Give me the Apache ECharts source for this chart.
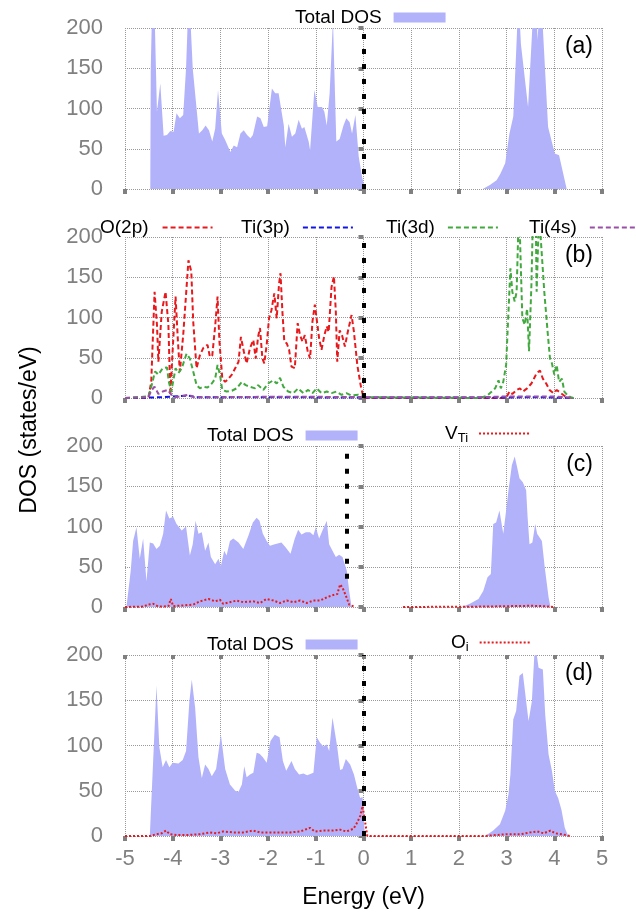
<!DOCTYPE html>
<html>
<head>
    <meta charset="utf-8">
    <title>DOS</title>
    <script src="https://cdn.jsdelivr.net/npm/echarts@6/dist/echarts.min.js"></script>
    <style>
        body { margin: 0; background: #fff; }
    </style>
</head>
<body>
    <div id="main" style="width: 636px;height:915px;"></div>
    <script type="text/javascript">
        // energy (eV), DOS (states/eV) pairs
        var totalA = [[-4.47,0],[-4.46,150],[-4.43,230],[-4.38,220],[-4.33,96],[-4.26,131],[-4.19,66],[-4.12,67],[-4.05,72],[-3.98,71],
            [-3.92,94],[-3.85,88],[-3.78,92],[-3.72,150],[-3.66,250],[-3.58,150],[-3.45,69],[-3.38,73],[-3.31,79],[-3.24,73],[-3.17,59],
            [-3.11,75],[-3.05,123],[-2.97,69],[-2.90,61],[-2.79,46],[-2.72,54],[-2.65,52],[-2.58,69],[-2.51,73],[-2.44,67],[-2.37,63],
            [-2.32,67],[-2.23,90],[-2.16,88],[-2.09,77],[-2.02,78],[-1.92,125],[-1.85,119],[-1.78,119],[-1.67,79],[-1.64,52],[-1.57,81],
            [-1.50,65],[-1.43,69],[-1.36,86],[-1.29,75],[-1.24,77],[-1.15,59],[-1.12,48],[-1.03,123],[-0.96,102],[-0.87,102],[-0.82,96],
            [-0.77,79],[-0.71,119],[-0.64,210],[-0.57,59],[-0.50,62],[-0.42,79],[-0.36,88],[-0.29,83],[-0.24,69],[-0.17,92],[-0.10,40],
            [-0.03,15],[0.03,0],
            [2.50,0],[2.65,5],[2.79,11],[2.87,19],[2.97,32],[3.06,69],[3.14,90],[3.20,170],[3.25,240],[3.30,180],[3.45,102],[3.53,190],
            [3.57,240],[3.62,230],[3.65,185],[3.69,230],[3.72,240],[3.76,200],[3.87,77],[4.01,44],[4.10,42],[4.14,40],[4.26,0]];

        var o2p = [[-5,0],[-4.51,0],[-4.45,20],[-4.38,132],[-4.33,91],[-4.30,45],[-4.23,107],[-4.15,132],[-4.09,91],[-4.05,4],[-4.01,49],
            [-3.94,126],[-3.89,70],[-3.85,33],[-3.78,78],[-3.73,120],[-3.67,171],[-3.61,157],[-3.57,95],[-3.50,37],[-3.43,53],[-3.36,62],
            [-3.27,66],[-3.22,51],[-3.17,53],[-3.11,89],[-3.06,126],[-3.02,70],[-2.96,24],[-2.90,20],[-2.83,24],[-2.76,29],[-2.69,37],
            [-2.62,45],[-2.57,76],[-2.51,58],[-2.45,43],[-2.38,62],[-2.31,72],[-2.26,49],[-2.21,76],[-2.17,87],[-2.12,49],[-2.08,43],
            [-2.03,66],[-1.98,99],[-1.93,109],[-1.87,130],[-1.82,99],[-1.77,142],[-1.74,155],[-1.70,107],[-1.66,70],[-1.61,68],[-1.56,60],
            [-1.51,39],[-1.44,37],[-1.38,93],[-1.33,78],[-1.28,70],[-1.23,78],[-1.17,58],[-1.12,49],[-1.07,95],[-1.02,116],[-0.98,118],
            [-0.93,74],[-0.88,60],[-0.82,78],[-0.77,89],[-0.73,82],[-0.67,138],[-0.62,151],[-0.58,107],[-0.55,45],[-0.50,84],[-0.45,78],
            [-0.39,64],[-0.33,82],[-0.25,103],[-0.20,82],[-0.13,41],[-0.06,16],[0,0],
            [2.99,0],[3.06,8],[3.12,5],[3.21,10],[3.28,12],[3.34,8],[3.43,12],[3.52,18],[3.59,26],[3.63,31],[3.70,34],[3.76,24],
            [3.83,18],[3.90,10],[3.98,6],[4.05,10],[4.14,6],[4.25,1],[4.4,0]];
        var ti3p = [[-5,0],[-4.5,0.5],[-4.2,1],[-3.67,3],[-3.5,1],[-2,1],[0,0.5],[3,0.5],[3.5,1],[4,0.5],[4.4,0]];
        var ti3d = [[-5,0],[-4.51,2],[-4.44,16],[-4.37,33],[-4.30,29],[-4.21,37],[-4.12,38],[-4.08,20],[-4.03,8],[-3.98,24],[-3.94,37],
            [-3.88,31],[-3.81,37],[-3.71,55],[-3.64,49],[-3.57,33],[-3.50,16],[-3.43,12],[-3.36,14],[-3.27,13],[-3.18,18],[-3.11,24],
            [-3.06,41],[-3.01,29],[-2.96,10],[-2.87,8],[-2.76,9],[-2.66,12],[-2.55,20],[-2.47,16],[-2.38,14],[-2.27,12],[-2.21,16],
            [-2.10,10],[-2.00,18],[-1.89,22],[-1.82,18],[-1.75,25],[-1.68,14],[-1.58,8],[-1.47,6],[-1.37,12],[-1.26,6],[-1.16,10],
            [-1.07,6],[-0.98,12],[-0.88,6],[-0.77,8],[-0.67,6],[-0.57,8],[-0.46,4],[-0.36,6],[-0.25,3],[-0.11,4],[0,1],
            [2.45,0],[2.59,3],[2.69,8],[2.76,12],[2.83,22],[2.88,12],[2.93,20],[2.99,41],[3.03,95],[3.08,161],[3.12,132],[3.17,120],
            [3.21,132],[3.26,240],[3.30,240],[3.33,99],[3.38,91],[3.43,111],[3.47,58],[3.52,140],[3.55,220],[3.61,230],[3.63,132],
            [3.68,230],[3.72,230],[3.79,132],[3.86,82],[3.91,49],[3.95,43],[4.00,29],[4.05,41],[4.10,20],[4.16,24],[4.21,8],[4.28,3],
            [4.34,1],[4.4,0]];
        var ti4s = [[-5,0],[-4.51,1],[-4.44,10],[-4.38,14],[-4.30,5],[-4.21,8],[-4.10,10],[-4.03,4],[-3.94,1],[-3.67,4],[-3.55,1],
            [-3,1],[-2,1.5],[-1,1.5],[0,1],[2.5,1],[3,2],[3.5,2],[4,2],[4.4,0]];

        var totalC = [[-4.97,0],[-4.88,45],[-4.83,82],[-4.76,99],[-4.69,60],[-4.62,85],[-4.55,32],[-4.48,80],[-4.41,79],[-4.34,72],
            [-4.27,76],[-4.20,91],[-4.14,120],[-4.07,110],[-3.99,112],[-3.92,103],[-3.81,95],[-3.72,100],[-3.64,64],[-3.58,78],
            [-3.52,107],[-3.46,91],[-3.39,93],[-3.32,70],[-3.25,80],[-3.20,62],[-3.11,53],[-3.04,60],[-2.99,51],[-2.92,70],[-2.87,64],
            [-2.80,82],[-2.73,85],[-2.62,80],[-2.52,72],[-2.41,89],[-2.32,105],[-2.24,111],[-2.18,107],[-2.11,91],[-2.03,82],[-1.96,76],
            [-1.86,78],[-1.72,80],[-1.63,74],[-1.53,66],[-1.44,85],[-1.37,96],[-1.30,90],[-1.21,93],[-1.12,93],[-1.05,89],[-1.00,99],
            [-0.93,85],[-0.86,95],[-0.77,107],[-0.72,78],[-0.65,70],[-0.58,62],[-0.51,65],[-0.44,62],[-0.35,45],[-0.30,20],[-0.25,0],
            [2.06,0],[2.23,4],[2.41,10],[2.51,20],[2.60,37],[2.67,41],[2.72,103],[2.78,105],[2.85,120],[2.93,91],[2.99,120],[3.04,145],
            [3.11,176],[3.17,187],[3.22,174],[3.27,160],[3.34,155],[3.41,145],[3.44,112],[3.48,78],[3.54,80],[3.60,103],[3.64,91],
            [3.74,82],[3.80,49],[3.88,12],[3.92,0]];
        var vTi = [[-5,0],[-4.62,0.5],[-4.51,3],[-4.41,4],[-4.30,0.5],[-4.09,1],[-4.04,10],[-3.99,1],[-3.78,2],[-3.57,3],[-3.43,7],
            [-3.25,10],[-3.11,7],[-3.01,9],[-2.94,4],[-2.80,6],[-2.66,8],[-2.52,6],[-2.31,7],[-2.17,5],[-2.03,10],[-1.89,8],[-1.75,5],
            [-1.61,8],[-1.47,6],[-1.33,8],[-1.19,5],[-1.05,8],[-0.91,8],[-0.77,12],[-0.63,15],[-0.55,16],[-0.49,28],[-0.44,24],
            [-0.37,14],[-0.30,3],[-0.18,0],[0.3,'-'],[0.83,0],[2.5,0.5],[3.0,1],[3.5,1.5],[3.8,1],[3.98,0]];

        var totalD = [[-4.48,0],[-4.41,83],[-4.34,166],[-4.28,98],[-4.21,76],[-4.14,84],[-4.07,76],[-4.00,81],[-3.88,80],[-3.79,84],
            [-3.72,94],[-3.65,149],[-3.60,173],[-3.53,142],[-3.46,87],[-3.39,64],[-3.32,79],[-3.25,74],[-3.18,66],[-3.09,74],[-2.99,112],
            [-2.90,74],[-2.80,57],[-2.69,50],[-2.62,49],[-2.55,57],[-2.50,77],[-2.45,65],[-2.38,68],[-2.31,70],[-2.24,92],[-2.18,91],
            [-2.11,87],[-2.03,81],[-1.95,105],[-1.86,112],[-1.76,109],[-1.69,83],[-1.62,72],[-1.58,73],[-1.51,83],[-1.44,74],[-1.35,68],
            [-1.26,69],[-1.18,67],[-1.05,70],[-0.98,109],[-0.91,103],[-0.84,99],[-0.77,101],[-0.72,94],[-0.65,131],[-0.55,98],[-0.49,73],
            [-0.44,74],[-0.37,85],[-0.28,79],[-0.20,68],[-0.13,53],[-0.07,42],[-0.02,43],[0.03,0],
            [2.55,0],[2.72,6],[2.86,13],[2.97,28],[3.04,46],[3.08,68],[3.14,129],[3.20,138],[3.27,177],[3.34,180],[3.41,149],[3.46,127],
            [3.53,149],[3.58,199],[3.63,201],[3.67,186],[3.76,184],[3.81,134],[3.88,90],[3.95,72],[4.01,50],[4.08,42],[4.15,29],[4.22,9],
            [4.29,0]];
        var oI = [[-5,0],[-4.48,0],[-4.34,2],[-4.23,3],[-4.14,6],[-4.06,2],[-3.92,1],[-3.71,1],[-3.43,2],[-3.22,4],[-3.08,3],[-2.94,5],
            [-2.73,4],[-2.52,4],[-2.31,6],[-2.17,4],[-1.96,4],[-1.75,4],[-1.54,4],[-1.33,5],[-1.12,9],[-1.02,5],[-0.84,6],[-0.63,6],
            [-0.49,7],[-0.36,5],[-0.21,8],[-0.13,15],[-0.07,22],[-0.02,33],[0.03,17],[0.08,0],[2.55,0],[3.0,2],[3.3,2],[3.5,4],[3.64,5],
            [3.78,3],[3.92,6],[4.02,3],[4.16,2],[4.33,0]];

        // Fermi level per panel, panel tags, axis ticks
        var fermi = [0, 0, -0.35, 0];
        var panelTags = ['(a)', '(b)', '(c)', '(d)'];
        var xTicks = ['-5', '-4', '-3', '-2', '-1', '0', '1', '2', '3', '4', '5'];

        var font = 'Liberation Sans, Arial, Helvetica, sans-serif';
        var gray = '#808080';
        var fill = '#b2b2fb';
        var grids = [
            {left: 125, right: 34, top: 28, height: 161},
            {left: 125, right: 34, top: 237, height: 161},
            {left: 125, right: 34, top: 446, height: 161},
            {left: 125, right: 34, top: 655, height: 181}
        ];

        var xAxes = [], yAxes = [];
        for (var i = 0; i < 4; i++) {
            xAxes.push({
                type: 'value', gridIndex: i, min: -5, max: 5, interval: 1,
                axisLine: {show: false},
                axisTick: {show: true, length: 5, lineStyle: {color: gray, width: 4}},
                axisLabel: {show: i === 3, color: gray, fontSize: 22, fontFamily: font, margin: 12,
                    formatter: function (v) { return xTicks[Math.round(v) + 5]; }},
                splitLine: {show: true, lineStyle: {color: '#999', type: 'dotted', width: 1}},
                name: i === 3 ? 'Energy (eV)' : '', nameLocation: 'middle', nameGap: 50,
                nameTextStyle: {color: '#000', fontSize: 23, fontFamily: font}
            });
            yAxes.push({
                type: 'value', gridIndex: i, min: 0, max: 200, interval: 50,
                axisLine: {show: false},
                axisTick: {show: true, length: 5, lineStyle: {color: gray, width: 4}},
                axisLabel: {color: gray, fontSize: 22, fontFamily: font, margin: 22},
                splitLine: {show: true, lineStyle: {color: '#999', type: 'dotted', width: 1}}
            });
        }
        // top ticks of the last panel
        xAxes.push({
            type: 'value', gridIndex: 3, position: 'top', min: -5, max: 5, interval: 1,
            axisLine: {show: false}, axisLabel: {show: false}, splitLine: {show: false},
            axisTick: {show: true, inside: true, length: 4, lineStyle: {color: gray, width: 4}}
        });

        function fermiLine(x, from) {
            return {
                silent: true, symbol: ['none', 'none'], label: {show: false},
                lineStyle: {color: '#000', type: [5, 10], width: 4},
                data: [[{coord: [x, from]}, {coord: [x, 200]}]]
            };
        }
        function areaSeries(data, idx, from) {
            return {
                name: 'Total DOS', type: 'line', data: data, xAxisIndex: idx, yAxisIndex: idx,
                symbol: 'none', lineStyle: {width: 0}, itemStyle: {color: fill},
                areaStyle: {color: fill, opacity: 1},
                markLine: fermiLine(fermi[idx], from)
            };
        }
        function lineSeries(name, data, idx, color, dash) {
            return {
                name: name, type: 'line', data: data, xAxisIndex: idx, yAxisIndex: idx,
                symbol: 'none', itemStyle: {color: color},
                lineStyle: {color: color, width: 2, type: dash}
            };
        }

        var series = [
            areaSeries(totalA, 0, 0),
            lineSeries('O(2p)', o2p, 1, '#e8191c', [5, 3]),
            lineSeries('Ti(3p)', ti3p, 1, '#1414e6', [5, 3]),
            lineSeries('Ti(3d)', ti3d, 1, '#42a93f', [5, 3]),
            lineSeries('Ti(4s)', ti4s, 1, '#9a4fa8', [5, 3]),
            areaSeries(totalC, 2, 35),
            lineSeries('V_Ti', vTi, 2, '#e8191c', [2, 2]),
            areaSeries(totalD, 3, 0),
            lineSeries('O_i', oI, 3, '#e8191c', [2, 2])
        ];
        series[1].markLine = fermiLine(0, 0);
        series[1].z = 3;

        function legendName(name) {
            if (name === 'V_Ti') return '{n|V}{s|Ti}';
            if (name === 'O_i') return '{n|O}{s|i}';
            return name;
        }
        function legend(name, left, top, isArea, gapRight) {
            return {
                data: [isArea ? {name: name, icon: 'rect'} : name], left: left, top: top, align: 'right',
                itemWidth: isArea ? 52 : 50, itemHeight: 10, selectedMode: false,
                itemStyle: isArea ? {} : {opacity: 0},
                textStyle: {color: '#000', fontSize: 19, fontFamily: font, padding: [0, gapRight, 0, 0],
                    rich: {n: {fontSize: 19, fontFamily: font},
                        s: {fontSize: 13, fontFamily: font, padding: [10, 0, 0, 0]}}},
                formatter: legendName
            };
        }

        var option = {
            animation: false,
            backgroundColor: '#fff',
            grid: grids,
            xAxis: xAxes,
            yAxis: yAxes,
            legend: [
                legend('Total DOS', 290, 3, true, 7),
                legend('O(2p)', 95, 213, false, 9),
                legend('Ti(3p)', 236, 213, false, 8),
                legend('Ti(3d)', 381, 213, false, 8),
                legend('Ti(4s)', 524, 213, false, 8),
                legend('Total DOS', 202, 421, true, 7),
                legend('V_Ti', 440, 419, false, 6),
                legend('Total DOS', 202, 630, true, 7),
                legend('O_i', 446, 628, false, 6)
            ],
            title: panelTags.map(function (t, i) {
                return {text: t, right: 38, top: grids[i].top + 2,
                    textStyle: {fontSize: 23, fontWeight: 'normal', color: '#000', fontFamily: font}};
            }),
            graphic: [{
                type: 'text', x: 30, y: 430, rotation: Math.PI / 2,
                style: {text: 'DOS (states/eV)', font: '23px ' + font, fill: '#000',
                    textAlign: 'center', textVerticalAlign: 'middle', align: 'center', verticalAlign: 'middle'}
            }],
            series: series
        };

        var myChart = echarts.init(document.getElementById('main'));
        myChart.setOption(option);
    </script>
</body>
</html>
